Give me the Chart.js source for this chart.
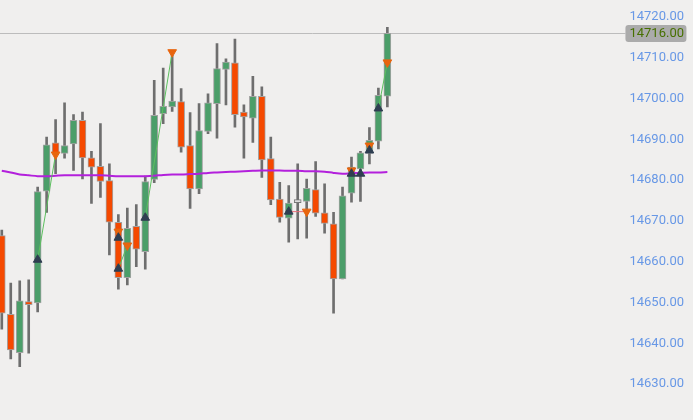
<!DOCTYPE html>
<html lang="en">
<head>
  <meta charset="UTF-8">
  <title>Candles</title>
  <script src="https://cdn.jsdelivr.net/npm/chart.js"></script>
  <style>
    html, body { margin: 0; padding: 0; background: #f0efee; }
    .chart-box { width: 693px; height: 420px; position: relative; }
  </style>
</head>
<body>
  <div class="chart-box"><canvas id="candles"></canvas></div>
  <script>
    // OHLC per bar
    const opens  = [14666.4, 14647.1, 14637.7, 14650.2, 14649.9, 14677.3, 14689.2, 14686.6, 14688.9, 14694.7,
                    14685.5, 14683.4, 14679.9, 14669.7, 14656.1, 14668.7, 14662.5, 14680.2, 14696.3, 14698.0,
                    14699.3, 14688.5, 14677.9, 14692.0, 14698.8, 14707.2, 14708.8, 14696.7, 14695.2, 14700.6,
                    14685.3, 14675.4, 14670.7, 14674.5, 14674.8, 14677.7, 14672.0, 14669.3, 14655.8, 14676.8,
                    14682.8, 14686.6, 14689.6, 14700.6];
    const highs  = [14667.8, 14654.8, 14655.3, 14655.6, 14678.3, 14690.6, 14694.9, 14699.0, 14696.1, 14696.7,
                    14687.1, 14693.9, 14684.0, 14671.6, 14673.2, 14674.0, 14681.0, 14704.5, 14707.5, 14710.7,
                    14702.5, 14696.6, 14698.8, 14701.2, 14713.5, 14709.8, 14714.6, 14698.5, 14705.5, 14702.9,
                    14690.6, 14679.5, 14678.7, 14684.0, 14680.3, 14684.6, 14679.1, 14672.1, 14678.3, 14685.7,
                    14687.1, 14692.9, 14702.6, 14717.5];
    const lows   = [14643.5, 14636.2, 14634.3, 14637.6, 14647.7, 14672.1, 14681.6, 14685.4, 14682.4, 14680.3,
                    14674.3, 14675.8, 14661.7, 14653.3, 14654.3, 14658.8, 14658.2, 14679.4, 14693.9, 14696.9,
                    14686.9, 14673.1, 14676.7, 14691.4, 14690.3, 14698.5, 14693.0, 14685.4, 14689.3, 14680.7,
                    14674.0, 14669.7, 14664.8, 14665.6, 14665.8, 14671.1, 14667.0, 14647.4, 14655.8, 14674.6,
                    14674.8, 14684.0, 14687.7, 14698.0];
    const closes = [14647.4, 14638.4, 14650.4, 14649.5, 14677.2, 14688.7, 14686.6, 14688.5, 14694.7, 14685.5,
                    14683.2, 14679.7, 14669.7, 14656.1, 14668.2, 14663.1, 14679.7, 14695.9, 14698.1, 14699.4,
                    14688.1, 14677.9, 14692.2, 14699.0, 14707.4, 14709.0, 14696.1, 14695.5, 14700.6, 14685.0,
                    14675.2, 14670.9, 14674.4, 14674.5, 14678.0, 14671.9, 14669.4, 14655.8, 14676.2, 14683.2,
                    14686.7, 14689.8, 14700.8, 14716.0];

    // moving average
    const maValues = [14682.3, 14681.9, 14681.4, 14681.2, 14681.0, 14681.0, 14681.1, 14681.2, 14681.2, 14681.2,
                      14681.2, 14681.2, 14681.1, 14681.0, 14681.0, 14681.0, 14681.0, 14681.1, 14681.3, 14681.4,
                      14681.4, 14681.5, 14681.6, 14681.8, 14681.9, 14682.0, 14682.1, 14682.2, 14682.3, 14682.4,
                      14682.4, 14682.4, 14682.3, 14682.3, 14682.2, 14682.2, 14682.1, 14681.8, 14681.6, 14681.7,
                      14681.8, 14681.9, 14681.9, 14682.0];

    // signal markers
    const buyIdx    = [4, 13, 13, 16, 32, 39, 40, 41, 42];
    const buyPrice  = [14660.5, 14665.9, 14658.3, 14670.8, 14672.3, 14681.6, 14681.6, 14687.3, 14697.6];
    const sellIdx   = [6, 13, 14, 19, 34, 39, 41, 43];
    const sellPrice = [14686.3, 14667.4, 14664.0, 14711.4, 14672.3, 14682.4, 14688.5, 14708.9];

    // trades: buy marker -> sell marker
    const tradeFromIdx   = [4, 13, 16, 32, 42];
    const tradeFromPrice = [14660.5, 14658.3, 14670.8, 14672.3, 14697.6];
    const tradeToIdx     = [6, 14, 19, 34, 43];
    const tradeToPrice   = [14686.3, 14664.0, 14711.4, 14672.3, 14708.9];

    const yTicks = [14630, 14640, 14650, 14660, 14670, 14680, 14690, 14700, 14710, 14720];
    const lastPrice = closes[closes.length - 1];

    const upColor = '#4b9e69';
    const downColor = '#f54900';
    const flatColor = '#dcdcdc';

    const bodyColors = opens.map((o, i) => closes[i] > o ? upColor : closes[i] < o ? downColor : flatColor);

    const tradeSets = tradeFromIdx.map((from, k) => ({
      type: 'line',
      data: [{ x: from, y: tradeFromPrice[k] }, { x: tradeToIdx[k], y: tradeToPrice[k] }],
      borderColor: tradeToPrice[k] > tradeFromPrice[k] ? '#5cc05f' : '#e8707c',
      borderWidth: 1,
      pointRadius: 0,
      order: 1
    }));

    // horizontal last-price line and price tag
    const priceTag = {
      id: 'priceTag',
      beforeDatasetsDraw(chart) {
        const { ctx, chartArea, scales } = chart;
        const y = Math.round(scales.y.getPixelForValue(lastPrice)) + 0.5;
        ctx.save();
        ctx.strokeStyle = '#bcbcbc';
        ctx.lineWidth = 1;
        ctx.beginPath();
        ctx.moveTo(chartArea.left, y);
        ctx.lineTo(chartArea.right, y);
        ctx.stroke();
        ctx.restore();
      },
      afterDraw(chart) {
        const { ctx, chartArea, scales } = chart;
        const y = scales.y.getPixelForValue(lastPrice);
        const x = chartArea.right;
        ctx.save();
        ctx.fillStyle = '#ababab';
        ctx.beginPath();
        ctx.roundRect(x, y - 8.5, 61, 17, 3);
        ctx.fill();
        ctx.fillStyle = '#477000';
        ctx.font = '13px Roboto';
        ctx.textBaseline = 'middle';
        ctx.fillText(lastPrice.toFixed(2), x + 4, y + 0.5);
        ctx.restore();
      }
    };

    new Chart(document.getElementById('candles'), {
      type: 'bar',
      data: {
        datasets: [
          {
            type: 'line',
            data: buyIdx.map((x, i) => ({ x: x, y: buyPrice[i] })),
            showLine: false,
            pointStyle: 'triangle',
            pointRadius: 5,
            backgroundColor: '#2f3e51',
            borderColor: '#2f3e51',
            borderWidth: 1,
            order: 0
          },
          {
            type: 'line',
            data: sellIdx.map((x, i) => ({ x: x, y: sellPrice[i] })),
            showLine: false,
            pointStyle: 'triangle',
            pointRotation: 180,
            pointRadius: 5,
            backgroundColor: '#e8650e',
            borderColor: '#e8650e',
            borderWidth: 1,
            order: 0
          },
          ...tradeSets,
          {
            type: 'line',
            data: maValues.map((v, i) => ({ x: i, y: v })),
            borderColor: '#b320dc',
            borderWidth: 2,
            pointRadius: 0,
            tension: 0.3,
            order: 2
          },
          {
            data: opens.map((o, i) => ({ x: i, y: [o, closes[i]] })),
            backgroundColor: bodyColors,
            borderColor: opens.map((o, i) => closes[i] === o ? '#777777' : '#a3a3a3'),
            borderWidth: 1,
            borderSkipped: false,
            barThickness: 7,
            minBarLength: 3,
            grouped: false,
            order: 3
          },
          {
            data: lows.map((l, i) => ({ x: i, y: [l, highs[i]] })),
            backgroundColor: '#6e6e6e',
            barThickness: 2,
            grouped: false,
            order: 4
          }
        ]
      },
      options: {
        responsive: true,
        maintainAspectRatio: false,
        animation: false,
        layout: { autoPadding: false, padding: { left: 0, right: 5, top: 0, bottom: 0 } },
        plugins: { legend: { display: false }, tooltip: { enabled: false } },
        scales: {
          x: {
            type: 'linear',
            min: -0.2,
            max: 69.55,
            offset: false,
            display: false
          },
          y: {
            position: 'right',
            min: 14621.2,
            max: 14724.2,
            grid: { display: false, drawTicks: false },
            border: { display: false },
            ticks: {
              color: '#6898e6',
              font: { family: 'Roboto', size: 13 },
              padding: 4,
              callback: v => v.toFixed(2)
            },
            afterBuildTicks: s => { s.ticks = yTicks.map(v => ({ value: v })); },
            afterFit: s => { s.paddingTop = 0; s.paddingBottom = 0; }
          }
        }
      },
      plugins: [priceTag]
    });
  </script>
</body>
</html>
